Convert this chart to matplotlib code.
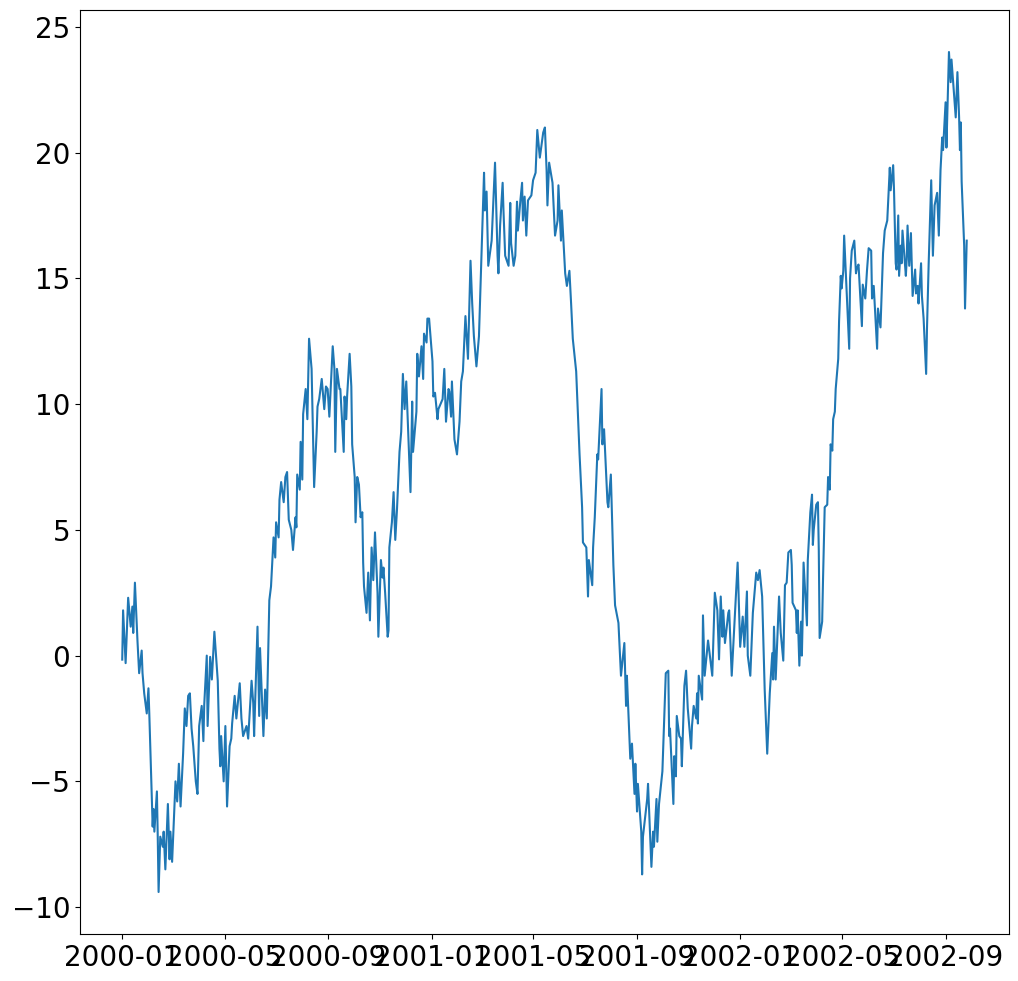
import numpy as np
import pandas as pd
import matplotlib
matplotlib.use("Agg")
import matplotlib.pyplot as plt
import matplotlib.dates as mdates

# day offsets from 2000-01-01 and the walk value
days = [
    0, 1, 4, 7, 10, 12, 13, 15, 18, 20, 23, 24, 26, 29, 31, 32, 36, 37, 38, 41,
    42, 43, 45, 48, 49, 51, 54, 56, 57, 59, 63, 65, 67, 69, 72, 74, 76, 78, 80, 82,
    84, 87, 89, 91, 94, 96, 97, 100, 101, 104, 106, 109, 113, 115, 116, 117, 120, 122, 124, 127,
    129, 130, 133, 135, 139, 141, 143, 147, 149, 153, 155, 156, 160, 162, 163, 167, 169, 171, 174, 176,
    179, 181, 182, 185, 186, 188, 191, 193, 195, 197, 200, 202, 205, 206, 207, 210, 211, 213, 214, 217,
    219, 221, 224, 225, 227, 230, 231, 233, 236, 239, 241, 243, 245, 249, 251, 252, 254, 257, 258, 262,
    263, 265, 266, 269, 271, 272, 275, 276, 278, 280, 282, 284, 285, 286, 289, 291, 293, 295, 297, 299,
    302, 303, 306, 308, 309, 311, 314, 315, 316, 319, 321, 323, 325, 328, 330, 332, 334, 336, 338, 341,
    343, 344, 348, 349, 351, 354, 356, 357, 360, 361, 363, 367, 368, 370, 373, 374, 379, 381, 383, 386,
    387, 389, 390, 393, 396, 399, 401, 403, 406, 409, 412, 414, 416, 419, 422, 425, 428, 429, 431, 433,
    437, 441, 444, 445, 447, 450, 451, 453, 457, 459, 460, 463, 465, 467, 468, 471, 473, 474, 476, 478,
    480, 484, 486, 489, 491, 494, 498, 500, 502, 503, 505, 509, 512, 515, 516, 519, 520, 524, 526, 529,
    531, 533, 537, 541, 544, 545, 549, 551, 552, 556, 557, 559, 562, 563, 567, 568, 570, 574, 575, 578,
    581, 583, 587, 590, 594, 596, 597, 601, 603, 606, 607, 609, 610, 614, 615, 616, 621, 622, 626, 628,
    629, 632, 633, 635, 639, 643, 646, 647, 648, 652, 653, 655, 656, 659, 661, 662, 665, 667, 669, 673,
    674, 676, 679, 680, 681, 682, 686, 687, 689, 693, 698, 699, 701, 704, 706, 708, 710, 711, 713, 717,
    718, 721, 725, 728, 731, 734, 736, 739, 740, 743, 746, 750, 752, 754, 757, 760, 763, 766, 769, 770,
    771, 773, 777, 779, 782, 784, 786, 788, 791, 792, 793, 797, 798, 799, 801, 803, 804, 805, 806, 810,
    811, 814, 816, 817, 818, 821, 823, 824, 825, 828, 829, 831, 834, 835, 837, 838, 840, 841, 843, 844,
    847, 848, 850, 851, 853, 854, 857, 860, 861, 863, 866, 868, 869, 871, 875, 876, 879, 881, 882, 883,
    886, 887, 889, 893, 894, 897, 900, 902, 905, 908, 909, 912, 913, 915, 916, 918, 919, 921, 922, 923,
    927, 928, 929, 931, 933, 935, 938, 939, 941, 942, 945, 946, 948, 951, 952, 954, 957, 959, 961, 964,
    966, 968, 970, 971, 974, 975, 978, 980, 981, 983, 986, 988, 990, 991, 992, 993, 996, 997, 999,
]

values = [
    -0.16, 1.8, -0.3, 2.3, 1.15, 1.95, 0.9, 2.9, 0.6, -0.7, 0.2, -0.7, -1.5, -2.3, -1.3, -2.3, -6.8, -6.1, -7.0, -5.4,
    -7.2, -9.4, -7.2, -7.6, -7.0, -8.5, -5.9, -8.1, -7.0, -8.2, -5.0, -5.8, -4.3, -6.0, -3.9, -2.1, -2.8, -1.6, -1.5, -2.9,
    -3.6, -5.0, -5.5, -2.8, -2.0, -3.4, -1.95, 0.0, -2.8, -0.05, -0.95, 0.95, -1.0, -3.7, -4.4, -3.2, -5.0, -2.8, -6.0, -3.6,
    -3.3, -2.7, -1.6, -2.5, -1.1, -2.5, -3.2, -2.8, -3.3, -1.0, -1.9, -3.2, 1.15, -2.4, 0.3, -3.2, -1.35, -2.5, 2.2, 2.75,
    4.7, 3.9, 5.3, 4.7, 6.2, 6.9, 6.1, 7.1, 7.3, 5.4, 5.0, 4.2, 5.5, 5.1, 7.2, 6.6, 8.5, 7.0, 9.6, 10.6,
    9.4, 12.6, 11.4, 9.8, 6.7, 8.9, 9.9, 10.2, 11.0, 9.8, 10.7, 10.6, 9.5, 12.3, 11.4, 8.1, 11.4, 10.6, 10.6, 8.1,
    10.3, 9.4, 10.3, 12.0, 10.7, 8.4, 7.1, 5.3, 7.1, 6.8, 5.5, 5.7, 3.7, 2.75, 1.7, 3.3, 1.4, 4.3, 3.0, 4.9,
    2.5, 0.75, 3.8, 3.1, 3.5, 2.5, 0.75, 1.0, 4.3, 5.3, 6.5, 4.6, 5.8, 8.1, 8.9, 11.2, 9.8, 10.9, 9.1, 6.5,
    10.1, 8.1, 9.7, 12.0, 11.1, 12.3, 11.0, 12.8, 12.45, 13.4, 13.4, 11.7, 10.3, 10.45, 9.4, 9.8, 10.2, 11.4, 9.3, 10.6,
    10.5, 9.5, 10.9, 8.6, 8.0, 9.3, 10.9, 11.3, 13.5, 11.8, 15.7, 14.0, 12.7, 11.5, 12.7, 16.0, 19.2, 17.7, 18.45, 15.5,
    16.5, 19.6, 15.9, 15.2, 17.1, 18.8, 17.7, 15.9, 15.5, 18.0, 16.4, 15.5, 15.9, 18.05, 16.9, 18.1, 18.8, 17.3, 18.25, 16.7,
    18.1, 18.3, 18.9, 19.2, 20.9, 19.8, 20.8, 21.0, 19.3, 17.9, 19.6, 18.8, 16.7, 17.3, 18.7, 16.5, 17.7, 15.2, 14.7, 15.3,
    14.0, 12.6, 11.3, 8.0, 5.9, 4.5, 4.3, 2.35, 3.8, 2.8, 4.3, 5.5, 8.0, 7.8, 10.6, 8.4, 9.0, 6.1, 5.9, 7.2,
    3.6, 2.0, 1.3, -0.8, 0.5, -2.0, -0.8, -4.1, -3.5, -5.5, -4.3, -6.2, -5.1, -7.0, -8.7, -7.2, -5.7, -5.1, -8.4, -7.0,
    -7.6, -5.7, -7.4, -5.9, -4.6, -0.7, -0.6, -3.2, -2.9, -5.9, -4.0, -4.8, -2.4, -3.2, -3.3, -4.4, -1.2, -0.6, -2.1, -3.7,
    -2.8, -2.0, -2.5, -1.5, -2.7, -0.8, -1.75, 1.6, -0.8, 0.6, -0.8, 0.35, 2.5, 1.8, -0.15, 2.35, 0.75, 1.8, 0.5, 1.7,
    1.8, -0.8, 1.8, 3.7, 0.35, 1.55, 0.35, 2.55, 0.0, -0.8, 1.7, 3.3, 3.0, 3.4, 2.35, -1.35, -3.9, -1.5, 0.1, -0.95,
    1.15, -0.95, 2.35, 0.9, -0.2, 2.8, 2.9, 4.1, 4.2, 3.6, 2.1, 1.8, 0.9, 1.8, -0.4, 1.35, 0.0, 1.6, 3.7, 1.2,
    3.8, 5.7, 6.4, 4.4, 5.0, 6.0, 6.1, 4.2, 0.7, 1.35, 3.0, 5.9, 6.0, 7.1, 6.6, 8.4, 8.15, 9.4, 9.7, 10.6,
    11.8, 13.3, 15.1, 14.6, 15.3, 16.7, 14.4, 12.2, 15.0, 16.1, 16.5, 15.2, 15.4, 15.55, 13.1, 14.75, 14.2, 15.3, 15.75, 16.2,
    16.1, 14.2, 14.7, 12.2, 13.8, 13.05, 16.0, 16.9, 17.3, 19.4, 18.5, 19.5, 18.5, 15.6, 15.35, 17.5, 15.1, 16.3, 15.6, 16.9,
    15.1, 15.75, 17.1, 15.5, 16.8, 14.3, 15.35, 14.4, 14.7, 14.0, 15.6, 14.3, 13.4, 11.2, 13.0, 15.6, 18.9, 15.9, 17.9, 18.4,
    16.7, 19.3, 20.6, 20.1, 22.0, 20.2, 24.0, 22.8, 23.7, 22.8, 21.4, 23.2, 21.4, 20.1, 21.2, 18.85, 16.3, 13.8, 16.5,
]

dates = pd.Timestamp("2000-01-01") + pd.to_timedelta(days, unit="D")
series = pd.Series(values, index=dates)

fig = plt.figure(figsize=(10.18, 9.81), dpi=100)
ax = fig.add_axes([0.0786, 0.0479, 0.9125, 0.9419])

ax.plot(series.index, series.values, color="#1f77b4", linewidth=1.5)

ax.xaxis.set_major_locator(mdates.MonthLocator(bymonth=[1, 5, 9]))
ax.xaxis.set_major_formatter(mdates.DateFormatter("%Y-%m"))
ax.tick_params(axis="both", labelsize=20)

fig.savefig("out.png", dpi=100)
plt.close(fig)
